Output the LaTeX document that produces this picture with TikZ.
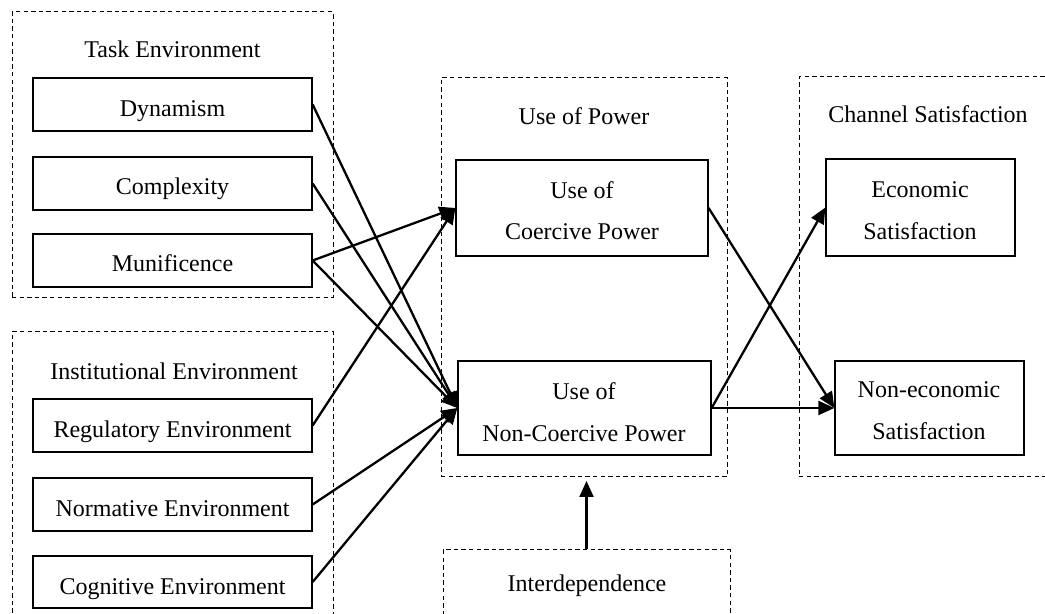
\documentclass[tikz,border=0pt]{standalone}
\usepackage{fontspec}
\setmainfont{Liberation Serif}
\usetikzlibrary{arrows.meta,fit}
\begin{document}
\begin{tikzpicture}[x=0.5pt,y=-0.5pt,
  box/.style={draw=black,line width=0.65pt,inner sep=0pt},
  grp/.style={draw=black,line width=0.5pt,dash pattern=on 2.2pt off 1.6pt,inner sep=0pt},
  lbl/.style={font=\fontsize{12}{14}\selectfont,inner sep=0pt,anchor=base},
  arr/.style={line width=1.15pt,-{Triangle[length=8pt,width=7pt]}}]
\clip (0,0) rectangle (1045,614);
% group boxes
\node[grp,fit={(12,12) (333,298)}] (task) {};
\node[grp,fit={(12,332) (333,660)}] (inst) {};
\node[grp,fit={(441,78) (727,477)}] (power) {};
\node[grp,fit={(799,77) (1060,477)}] (chan) {};
\node[grp,fit={(443,550) (730,660)}] (inter) {};
% titles
\node[lbl] (ttask) at (172.5,58) {Task Environment};
\node[lbl] (tinst) at (174,380) {Institutional Environment};
\node[lbl] (tpower) at (584,125) {Use of Power};
\node[lbl] (tchan) at (928,123) {Channel Satisfaction};
\node[lbl] (tinter) at (587,592) {Interdependence};
% boxes
\node[box,fit={(33,78) (312,131)}] (dyn) {};
\node[box,fit={(33,157) (312,210)}] (com) {};
\node[box,fit={(33,234) (312,287)}] (mun) {};
\node[box,fit={(33,399) (312,452)}] (reg) {};
\node[box,fit={(33,478) (312,531)}] (nor) {};
\node[box,fit={(33,556) (312,608)}] (cog) {};
\node[box,fit={(456,160) (708,256)}] (coe) {};
\node[box,fit={(458,361) (711,455)}] (ncp) {};
\node[box,fit={(826,159) (1015,256)}] (eco) {};
\node[box,fit={(835,361) (1024,455)}] (nec) {};
% box texts
\node[lbl] (tdyn) at (172.5,117) {Dynamism};
\node[lbl] (tcom) at (172.5,195) {Complexity};
\node[lbl] (tmun) at (172.5,272) {Munificence};
\node[lbl] (treg) at (172.5,438) {Regulatory Environment};
\node[lbl] (tnor) at (172.5,517) {Normative Environment};
\node[lbl] (tcog) at (172.5,595) {Cognitive Environment};
\node[lbl] (tcoe1) at (582,199) {Use of};
\node[lbl] (tcoe2) at (582,240) {Coercive Power};
\node[lbl] (tncp1) at (584,400) {Use of};
\node[lbl] (tncp2) at (584,442) {Non-Coercive Power};
\node[lbl] (teco1) at (920,198) {Economic};
\node[lbl] (teco2) at (920,240) {Satisfaction};
\node[lbl] (tnec1) at (929,398) {Non-economic};
\node[lbl] (tnec2) at (929,440) {Satisfaction};
% connectors
\draw[arr] (dyn.east) -- (ncp.west);
\draw[arr] (com.east) -- (ncp.west);
\draw[arr] (mun.east) -- (coe.west);
\draw[arr] (mun.east) -- (ncp.west);
\draw[arr] (reg.east) -- (coe.west);
\draw[arr] (nor.east) -- (ncp.west);
\draw[arr] (cog.east) -- (ncp.west);
\draw[arr] (coe.east) -- (nec.west);
\draw[arr] (ncp.east) -- (eco.west);
\draw[arr] (ncp.east) -- (nec.west);
\coordinate (itip) at (586.5,481);
\draw[arr] (inter.north) -- (itip);
\end{tikzpicture}
\end{document}
